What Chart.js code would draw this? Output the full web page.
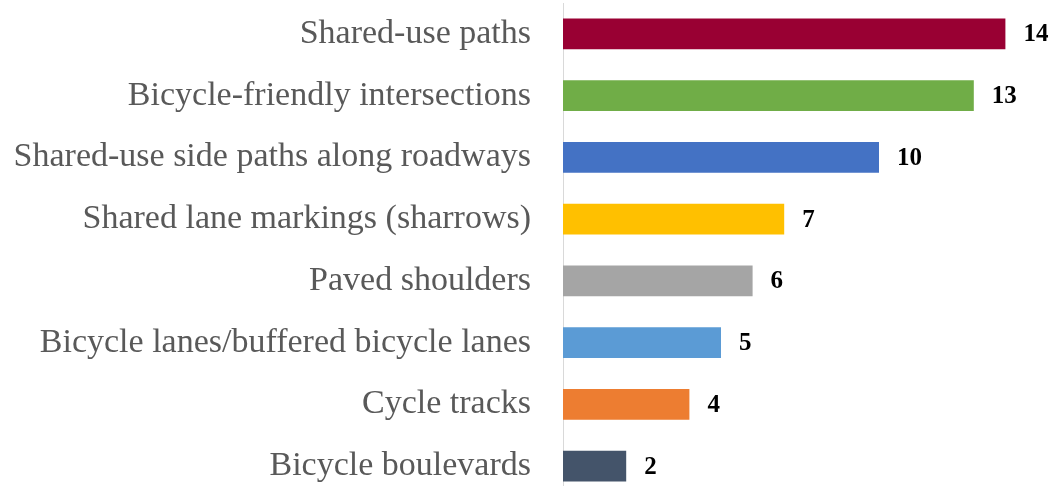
<!DOCTYPE html>
<html>
<head>
<meta charset="utf-8">
<script src="https://cdn.jsdelivr.net/npm/chart.js@4"></script>
<style>
    html, body { margin: 0; padding: 0; background: #fff; overflow: hidden; }
    #wrap { width: 1050px; height: 497px; }
</style>
</head>
<body>
<div id="wrap"><canvas id="facilityChart"></canvas></div>
<script>
// Chart data
const facilityTypes = [
    'Shared-use paths',
    'Bicycle-friendly intersections',
    'Shared-use side paths along roadways',
    'Shared lane markings (sharrows)',
    'Paved shoulders',
    'Bicycle lanes/buffered bicycle lanes',
    'Cycle tracks',
    'Bicycle boulevards'
];
const facilityCounts = [14, 13, 10, 7, 6, 5, 4, 2];
const barColors = ['#990033', '#70AD47', '#4472C4', '#FFC000', '#A5A5A5', '#5B9BD5', '#ED7D31', '#44546A'];

// Draw the count next to the end of each bar
const valueLabels = {
    id: 'valueLabels',
    afterDatasetsDraw(chart) {
        const ctx = chart.ctx;
        const meta = chart.getDatasetMeta(0);
        ctx.save();
        ctx.font = 'bold 25px "Liberation Serif"';
        ctx.fillStyle = '#000';
        ctx.textAlign = 'left';
        ctx.textBaseline = 'middle';
        meta.data.forEach((bar, i) => {
            ctx.fillText(facilityCounts[i], bar.x + 18, bar.y + 1);
        });
        ctx.restore();
    }
};

new Chart(document.getElementById('facilityChart'), {
    type: 'bar',
    data: {
        labels: facilityTypes,
        datasets: [{
            data: facilityCounts,
            backgroundColor: barColors,
            barPercentage: 0.5,
            categoryPercentage: 1
        }]
    },
    options: {
        indexAxis: 'y',
        responsive: true,
        maintainAspectRatio: false,
        animation: false,
        layout: { padding: { top: 3, right: 13, bottom: 0, left: 0 } },
        plugins: {
            legend: { display: false },
            tooltip: { enabled: false }
        },
        scales: {
            x: {
                display: false,
                min: 0,
                max: 15
            },
            y: {
                // fixed axis position, and no extra room above/below for tick labels
                afterFit(scale) {
                    scale.width = 563;
                    scale.paddingTop = 0;
                    scale.paddingBottom = 0;
                },
                grid: { display: false, drawTicks: false },
                border: { display: true, color: '#d9d9d9', width: 1 },
                ticks: {
                    autoSkip: false,
                    padding: 32,
                    color: '#595959',
                    font: { family: '"Liberation Serif"', size: 34 }
                }
            }
        }
    },
    plugins: [valueLabels]
});
</script>
</body>
</html>
